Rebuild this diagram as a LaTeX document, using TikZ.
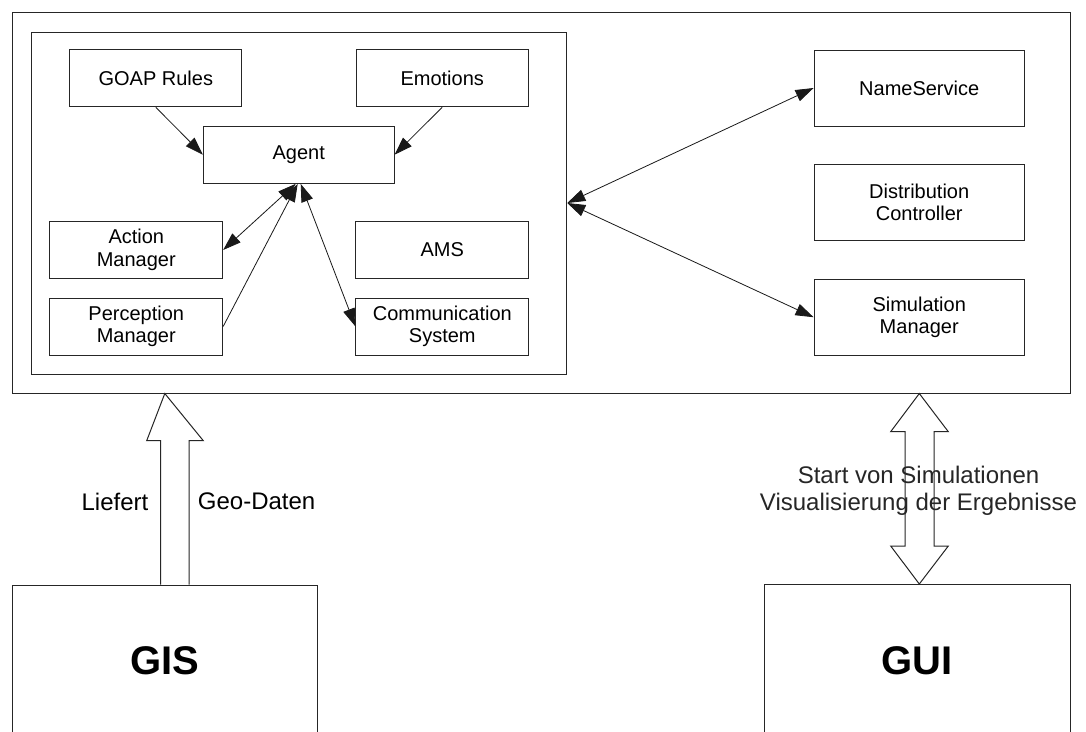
\documentclass[tikz,border=0pt]{standalone}
\usepackage{fontspec}
\setmainfont{Liberation Sans}
\usetikzlibrary{arrows.meta}

\tikzset{
  box/.style={draw=black!85, line width=1pt, rectangle, inner sep=0pt, align=center,
              font=\fontsize{20}{22.5}\selectfont},
  frame/.style={draw=black!85, line width=1pt, rectangle, inner sep=0pt},
  conn/.style={draw=black!90, line width=0.8pt},
  head/.style={-{Triangle[length=18pt,width=12pt]}},
  twohead/.style={{Triangle[length=18pt,width=12pt]}-{Triangle[length=18pt,width=12pt]}},
  bigarrow/.style={draw=black!85, line width=1pt, fill=white},
  lbl/.style={inner sep=0pt, align=center, font=\fontsize{24}{27}\selectfont},
  bigbox/.style={frame, font=\fontsize{40}{44}\bfseries}
}

\begin{document}
\begin{tikzpicture}[x=1pt, y=-1pt]
  \useasboundingbox (0,0) rectangle (1086,731);
  \clip (0,0) rectangle (1086,731);
  \fill[white] (0,0) rectangle (1086,731);

  % platform frame and agent container
  \node[frame, minimum width=1058pt, minimum height=381pt] (platform) at (541,202.5) {};
  \node[frame, minimum width=535pt, minimum height=342pt] (container) at (299.3,203) {};

  % agent components
  \node[box, minimum width=171.7pt, minimum height=57pt] (goap) at (155.8,78.3) {GOAP Rules};
  \node[box, minimum width=172.3pt, minimum height=57pt] (emo) at (442.2,78.3) {Emotions};
  \node[box, minimum width=190.7pt, minimum height=57.3pt] (agent) at (298.7,154.7) {Agent};
  \node[box, minimum width=172.7pt, minimum height=56.7pt] (action) at (136.3,250) {Action\\Manager};
  \node[box, minimum width=172.7pt, minimum height=56.7pt] (ams) at (442.3,250) {AMS};
  \node[box, minimum width=172.7pt, minimum height=57pt] (percep) at (136.3,326.5) {Perception\\Manager};
  \node[box, minimum width=172.7pt, minimum height=57pt] (comm) at (442.3,326.5) {Communication\\System};

  % platform services
  \node[box, minimum width=210.3pt, minimum height=76pt] (names) at (919.2,88) {NameService};
  \node[box, minimum width=210.3pt, minimum height=76.4pt] (dist) at (919.2,202.5) {Distribution\\Controller};
  \node[box, minimum width=210.3pt, minimum height=75.7pt] (sim) at (919.2,317.2) {Simulation\\Manager};

  % external systems (extend past the lower edge)
  \node[bigbox, minimum width=305pt, minimum height=200pt, anchor=north] (gis) at (164.8,584.5) {};
  \node[bigbox, minimum width=306pt, minimum height=200pt, anchor=north] (gui) at (917,584) {};
  \node[inner sep=0pt, font=\fontsize{40}{44}\selectfont\bfseries] (gistxt) at (164.8,661) {GIS};
  \node[inner sep=0pt, font=\fontsize{40}{44}\selectfont\bfseries] (guitxt) at (917,661) {GUI};

  % connectors inside the agent container
  \draw[conn, head] (goap.south) -- (agent.west);
  \draw[conn, head] (emo.south) -- (agent.east);
  \draw[conn, twohead] ([xshift=-3pt]agent.south) -- (action.east);
  \draw[conn, head] (percep.east) -- ([xshift=-1pt]agent.south);
  \draw[conn, twohead] ([xshift=2pt]agent.south) -- (comm.west);

  % connectors to the platform services
  \draw[conn, twohead] (container.east) -- (names.west);
  \draw[conn, twohead] (container.east) -- (sim.west);

  % GIS -> platform block arrow
  \coordinate (gistip) at (platform.south -| gis.north);
  \draw[bigarrow] (160.7,584.5) -- (160.7,440.7) -- (146.7,440.7) -- (gistip)
        -- (203.3,440.7) -- (189,440.7) -- (189,584.5);
  \node[lbl, anchor=east] (liefert) at (148.5,501.5) {Liefert};
  \node[lbl, anchor=west] (geo) at (197.7,501.5) {Geo-Daten};

  % GUI <-> platform double block arrow
  \coordinate (guitop) at (platform.south -| 919.3,0);
  \coordinate (guibot) at (gui.north -| 919.3,0);
  \draw[bigarrow] (guitop) -- (948.3,431.7) -- (934,431.7) -- (934,546) -- (948.3,546)
        -- (guibot) -- (890.7,546) -- (905,546) -- (905,431.7) -- (890.7,431.7) -- cycle;
  \node[lbl, text=black!85] (guilbl) at (918.5,490.5) {Start von Simulationen\\Visualisierung der Ergebnisse};
\end{tikzpicture}
\end{document}
